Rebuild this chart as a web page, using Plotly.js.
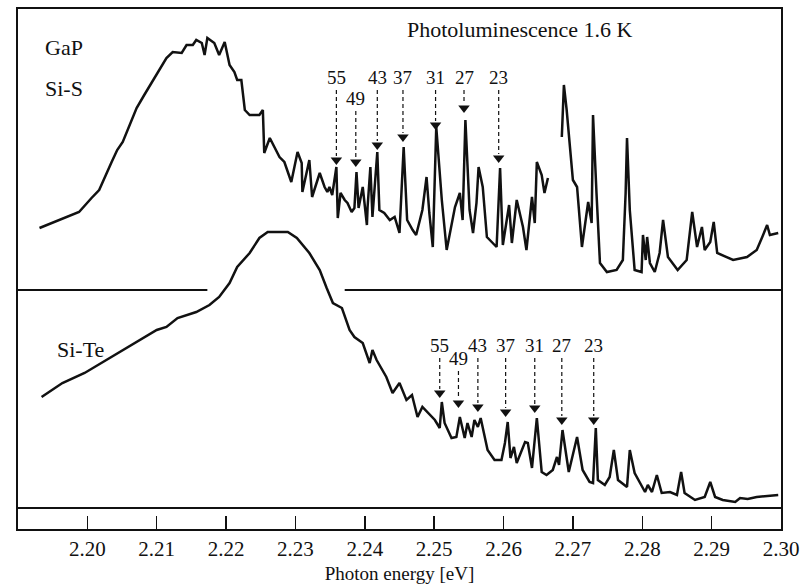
<!DOCTYPE html>
<html><head><meta charset="utf-8">
<script src="https://cdn.plot.ly/plotly-3.0.1.min.js"></script>
<style>html,body{margin:0;padding:0;background:#fff}#chart{width:803px;height:587px}</style>
</head><body><div id="chart"></div>
<script>
// GaP:Si-S spectrum (photon energy in eV, intensity in arbitrary units); null marks the break in the trace
const energySiS = [2.1931,2.1988,2.2006,2.2017,2.2035,2.2043,2.2051,2.2061,2.2071,2.2082,2.2097,2.2114,2.2123,2.2136,2.2143,2.2152,2.2157,2.2165,2.2169,2.2173,2.2183,2.2190,2.2198,2.2205,2.2212,2.2216,2.2222,2.2227,2.2234,2.2248,2.2253,2.2255,2.2263,
  2.2277,2.2284,2.2294,2.2303,2.2309,2.2310,2.2320,2.2324,2.2335,2.2342,2.2346,2.2349,2.2353,2.2359,2.2361,2.2365,2.2371,2.2375,2.2381,2.2385,2.2388,2.2391,2.2397,2.2403,2.2404,2.2408,2.2411,2.2418,2.2421,2.2428,2.2436,2.2443,2.2450,2.2456,2.2461,2.2469,2.2474,2.2483,2.2489,2.2493,2.2498,2.2503,
  2.2511,2.2518,2.2525,2.2530,2.2537,2.2541,2.2545,2.2551,2.2556,2.2561,2.2564,2.2570,2.2576,2.2590,2.2595,2.2599,2.2608,2.2612,2.2619,2.2628,2.2633,2.2641,2.2645,2.2648,2.2655,2.2659,2.2664,
  2.2674,
  2.2684,2.2687,2.2691,2.2700,2.2706,2.2713,2.2717,2.2722,2.2727,2.2729,2.2734,2.2739,2.2749,2.2763,2.2772,2.2776,2.2778,2.2782,2.2789,2.2799,2.2801,2.2805,2.2807,2.2811,2.2818,2.2825,2.2830,2.2837,2.2851,2.2864,2.2872,2.2879,2.2886,2.2890,2.2898,2.2903,2.2908,2.2931,2.2951,2.2965,2.2973,2.2980,2.2984,2.2996];
const intensitySiS = [301,317,331,339,367,379,387,404,421,434,451,471,477,476,484,484,489,486,474,491,486,474,487,464,457,449,449,419,414,414,419,376,391,
  372,367,347,377,366,337,369,332,356,342,337,342,334,362,311,336,329,326,317,321,357,321,342,304,322,362,312,377,319,316,309,312,296,382,309,299,294,319,352,316,282,402,
  329,279,302,322,336,309,409,319,296,326,362,342,292,282,361,284,324,286,329,302,279,332,306,367,354,336,351,
  null,
  392,444,419,349,342,282,302,327,306,414,336,266,257,259,269,336,391,319,259,257,294,269,292,266,257,276,309,272,259,269,317,282,302,279,287,307,276,269,272,279,292,304,294,296];

// GaP:Si-Te spectrum
const energySiTe = [2.1934,2.1964,2.1996,2.2020,2.2046,2.2075,2.2100,2.2114,2.2130,2.2157,2.2176,2.2190,2.2205,2.2216,2.2234,2.2248,2.2260,2.2289,2.2302,2.2320,2.2335,2.2345,2.2354,2.2367,2.2378,2.2385,2.2397,2.2407,2.2411,2.2417,2.2431,2.2440,2.2450,2.2460,2.2468,2.2476,2.2483,2.2501,2.2508,2.2511,2.2515,2.2525,2.2532,2.2537,2.2544,2.2548,2.2554,2.2558,2.2563,2.2567,2.2573,2.2577,2.2587,2.2597,2.2602,2.2606,2.2610,2.2615,2.2619,2.2631,2.2635,2.2641,2.2648,2.2655,2.2662,2.2671,2.2677,2.2680,2.2685,2.2694,2.2706,2.2714,2.2724,2.2729,2.2733,2.2736,2.2746,2.2753,2.2759,2.2765,2.2778,2.2782,2.2789,2.2797,2.2804,2.2808,2.2814,2.2821,2.2828,2.2840,2.2850,2.2856,2.2861,2.2876,2.2890,2.2898,2.2905,2.2916,2.2934,2.2941,2.2952,2.2965,2.2996];
const intensitySiTe = [132,146,156,166,177,189,199,202,211,217,224,232,246,262,276,291,297,297,291,276,259,241,226,221,199,192,186,166,179,169,152,136,146,129,134,112,122,109,101,127,106,91,92,112,91,106,92,109,102,111,92,79,69,69,86,107,71,82,66,87,86,61,111,57,54,59,72,64,99,57,92,59,47,46,101,49,44,52,79,49,42,79,56,46,37,44,37,54,36,37,34,57,36,29,32,47,32,29,27,31,30,32,34];

// Marked lines (labels), their energies and peak heights
const peakLabels = ['55','49','43','37','31','27','23'];
const peakSiSEnergy = [2.2359,2.2387,2.2418,2.2455,2.2502,2.2543,2.2593];
const peakSiSTip = [364,362,379,387,399,416,366];
const peakSiSLabelY = [452,431,452,452,452,452,452];
const peakSiTeEnergy = [2.2508,2.2535,2.2563,2.2603,2.2645,2.2684,2.2730];
const peakSiTeTip = [131,121,117,112,116,104,104];
const peakSiTeLabelY = [184,171,184,184,184,184,184];

const xTickVals = [2.20,2.21,2.22,2.23,2.24,2.25,2.26,2.27,2.28,2.29,2.30];
const xTickText = ['2.20','2.21','2.22','2.23','2.24','2.25','2.26','2.27','2.28','2.29','2.30'];

const FONT = 'Liberation Serif, Times New Roman, serif';
const INK = '#111';

function arrowTraces(xs, tips, labelYs) {
  const lx = [], ly = [];
  xs.forEach((x, i) => { lx.push(x, x, null); ly.push(labelYs[i] - 13, tips[i] + 9, null); });
  return [
    {x: lx, y: ly, mode: 'lines', line: {color: INK, width: 1.2, dash: '4px,3px'}, hoverinfo: 'skip'},
    {x: xs, y: tips.map(t => t + 5), mode: 'markers', marker: {symbol: 'triangle-down', size: 10, color: INK}, hoverinfo: 'skip'}
  ];
}

const traces = [
  {x: energySiS, y: intensitySiS, mode: 'lines', line: {color: INK, width: 2.5}, connectgaps: false, name: 'Si-S'},
  {x: energySiTe, y: intensitySiTe, mode: 'lines', line: {color: INK, width: 2.5}, name: 'Si-Te'},
  ...arrowTraces(peakSiSEnergy, peakSiSTip, peakSiSLabelY),
  ...arrowTraces(peakSiTeEnergy, peakSiTeTip, peakSiTeLabelY)
];

const annotations = [];
peakLabels.forEach((t, i) => {
  annotations.push({x: peakSiSEnergy[i], y: peakSiSLabelY[i], text: t, showarrow: false, font: {family: FONT, size: 19, color: INK}});
  annotations.push({x: peakSiTeEnergy[i], y: peakSiTeLabelY[i], text: t, showarrow: false, font: {family: FONT, size: 19, color: INK}});
});
annotations.push(
  {x: 2.1936, y: 482, text: 'GaP', xanchor: 'left', showarrow: false, font: {family: FONT, size: 22, color: INK}},
  {x: 2.1936, y: 441, text: 'Si-S', xanchor: 'left', showarrow: false, font: {family: FONT, size: 22, color: INK}},
  {x: 2.1953, y: 180, text: 'Si-Te', xanchor: 'left', showarrow: false, font: {family: FONT, size: 22, color: INK}},
  {x: 2.2458, y: 500, text: 'Photoluminescence 1.6 K', xanchor: 'left', showarrow: false, font: {family: FONT, size: 22, color: INK}}
);

const layout = {
  width: 803, height: 587,
  margin: {l: 18, r: 22, t: 9, b: 58},
  paper_bgcolor: '#fff', plot_bgcolor: '#fff',
  showlegend: false,
  font: {family: FONT, color: INK},
  xaxis: {
    range: [2.19, 2.30], tickvals: xTickVals, ticktext: xTickText,
    ticks: 'inside', ticklen: 13, tickwidth: 1.5, tickcolor: INK,
    showline: true, mirror: true, linewidth: 2, linecolor: INK,
    showgrid: false, zeroline: false,
    tickfont: {family: FONT, size: 21, color: INK},
    title: {text: 'Photon energy [eV]', font: {family: FONT, size: 19, color: INK}, standoff: 6}
  },
  yaxis: {
    range: [0, 520], showticklabels: false, ticks: '',
    showline: true, mirror: true, linewidth: 2, linecolor: INK,
    showgrid: false, zeroline: false
  },
  shapes: [
    {type: 'line', xref: 'paper', yref: 'y', x0: 0, x1: 1, y0: 21, y1: 21, line: {color: INK, width: 2}},
    {type: 'line', xref: 'x', yref: 'y', x0: 2.19, x1: 2.2173, y0: 239, y1: 239, line: {color: INK, width: 2}},
    {type: 'line', xref: 'x', yref: 'y', x0: 2.2371, x1: 2.30, y0: 239, y1: 239, line: {color: INK, width: 2}}
  ],
  annotations: annotations
};

Plotly.newPlot('chart', traces, layout, {displayModeBar: false, staticPlot: true});
</script>
</body></html>
